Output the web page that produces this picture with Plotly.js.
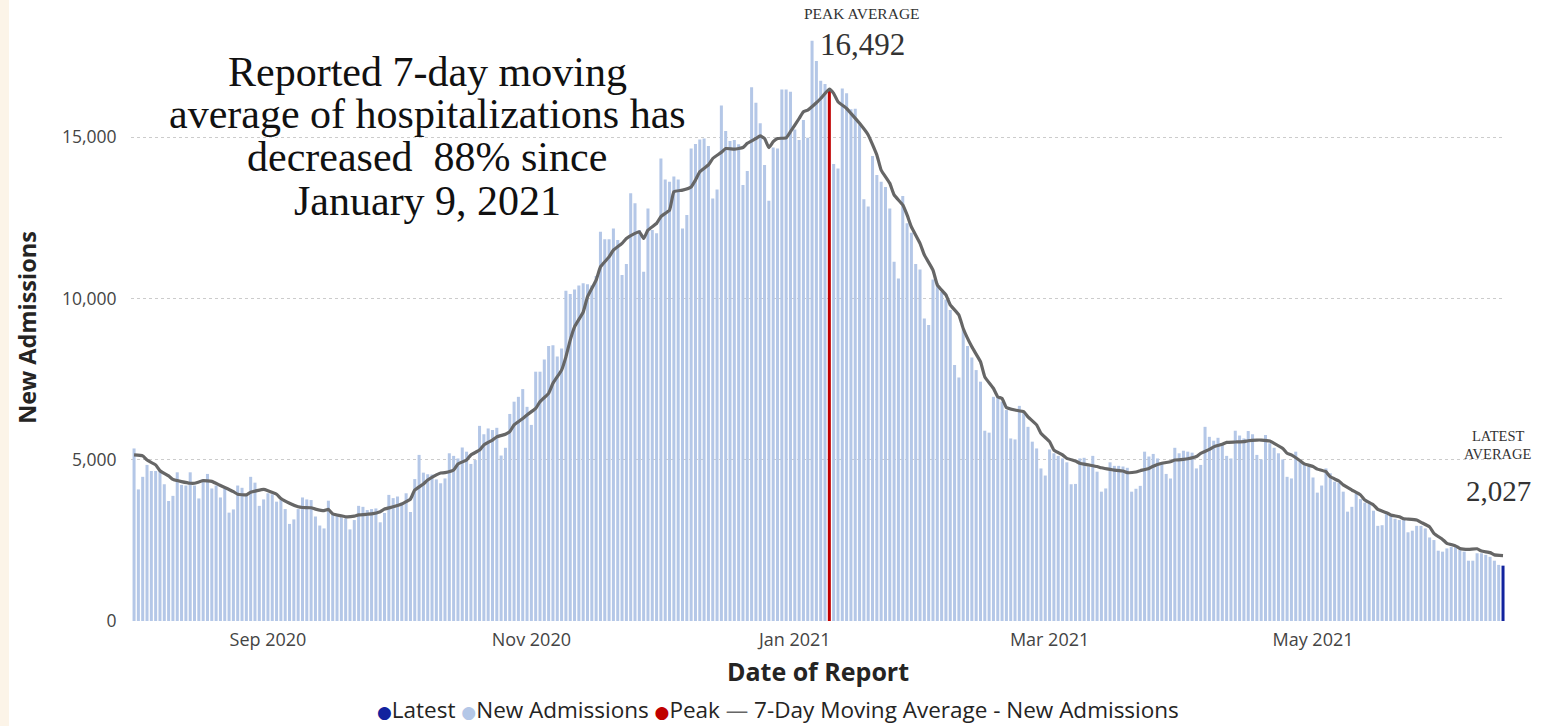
<!DOCTYPE html>
<html><head><meta charset="utf-8">
<script src="https://cdn.plot.ly/plotly-3.0.1.min.js"></script>
<style>
html,body{margin:0;padding:0;background:linear-gradient(to right,#fcf4e8 0,#fcf4e8 9px,#ffffff 9px);}
#chart{width:1552px;height:726px;}
</style></head>
<body><div id="chart"></div>
<script>
// ---- DATA ----
const startDate = '2020-08-01';
// Daily new admissions from Aug 1, 2020 (null where a highlight bar is drawn instead)
const admissions = [
5350,4080,4470,4840,4650,4650,4680,4240,3720,3880,
4610,4220,4200,4610,4200,3800,4400,4560,4110,4200,
3830,4110,3360,3460,4200,4130,3930,4470,4290,3570,
3770,3960,3930,3700,3750,3470,3010,3150,3470,3830,
3770,3750,3240,2960,2870,3730,3290,3260,3210,3180,
2840,3130,3570,3540,3440,3470,3490,3060,3350,3910,
3810,3860,3670,3960,3380,4400,5150,4600,4550,4540,
4390,4270,4420,5200,5120,5040,5380,5250,4870,4990,
6050,5790,5970,5920,5990,5130,5370,6420,6800,6950,
7190,6640,6080,7730,7730,8110,8530,8550,8200,8450,
10240,10140,10280,10400,10470,10440,10400,10700,12070,11840,
11840,12170,11810,10730,11070,13260,12950,12120,10830,12790,
12120,12020,14340,13690,13620,13780,13690,12170,12590,14650,
14790,14930,14960,14730,13100,13380,15980,15190,14880,14910,
14780,13520,13950,16550,16070,15430,14140,13030,14680,14650,
16480,16480,16410,15240,14910,15530,14980,17990,17360,16750,
16650,null,14170,14030,16510,16360,15870,15880,15400,13080,
12850,14420,13830,13620,13460,12790,11140,10620,13180,12330,
12040,11070,10900,9380,9180,10590,10470,10210,9970,9640,
7940,7550,9040,8530,8170,7780,7420,5900,5840,6950,
6950,6800,6540,5660,5630,6670,6490,6020,5560,5350,
4730,4510,5320,5200,5120,5040,4920,4240,4250,5040,
5060,4790,5120,4630,4010,4110,4920,4810,4810,4790,
4750,4010,4100,4190,5250,5100,5180,5040,4910,4560,
4420,5370,5200,5280,5250,5220,4730,4840,6020,5710,
5590,5680,5460,5120,5040,5900,5750,5660,5890,5790,
5150,5010,5770,5510,5370,5200,5010,4470,4420,5250,
4940,4890,4790,4450,3980,4200,4730,4580,4320,4290,
4010,3390,3540,3940,3780,3670,3630,3420,2950,2970,
3360,3290,3170,3130,3130,2750,2800,2950,2950,2870,
2590,2510,2180,2150,2250,2300,2330,2200,2150,1870,
1870,2100,2100,2050,1990,1870,1740,null
];
// 7-day moving average, read at these day offsets from startDate
const avgDay = [0,2,3,5,6,8,9,11,13,14,16,18,20,21,23,24,26,27,30,31,33,34,
36,38,39,41,42,44,45,46,48,49,51,52,54,55,57,58,60,62,63,64,65,67,68,70,
71,72,74,75,77,78,80,81,83,84,86,87,88,90,91,93,94,96,97,99,100,101,102,
104,105,107,108,110,111,113,114,116,117,118,119,121,122,124,125,127,129,130,131,133,134,
136,137,139,141,142,144,145,146,147,148,149,151,152,154,155,156,158,159,161,162,163,165,166,
168,170,172,173,175,176,178,179,180,182,183,185,186,188,189,191,192,194,196,197,199,
200,201,202,204,206,207,209,210,212,213,215,216,218,219,221,223,224,226,227,229,230,
232,233,235,236,238,240,241,243,244,246,247,249,250,252,253,255,257,258,260,261,263,264,266,
267,268,270,271,273,274,276,277,279,280,282,284,285,287,288,290,291,293,294,
295,297,298,300,301,303,304,306,307,309,311,312,314,315,317];
const avgValue = [5150,5120,4990,4840,4660,4500,4390,4320,4270,4270,4350,4330,4200,4140,4010,3930,3910,3990,4080,4040,3930,3800,
3650,3540,3520,3510,3470,3420,3460,3320,3260,3230,3250,3290,3310,3320,3390,3470,3540,3630,3700,3780,4060,4250,4370,4530,
4590,4600,4680,4870,4990,5150,5300,5460,5610,5710,5790,5870,6080,6280,6390,6590,6800,7060,7370,7780,8190,8710,9120,
9580,10050,10570,10980,11290,11500,11710,11860,12020,12070,11860,12120,12330,12540,12740,13310,13360,13460,13670,13930,14140,14340,
14530,14650,14630,14680,14810,14960,15040,14960,14680,14860,14960,14980,15170,15580,15790,15840,16070,16200,16492,16360,16100,15890,15740,
15430,15070,14450,13980,13570,13210,12900,12590,12220,11710,11350,10880,10420,10110,9800,9490,9070,8500,8040,7570,7210,
6950,6900,6620,6540,6490,6330,6080,5820,5560,5300,5150,5040,4960,4890,4840,4790,4750,4700,4680,4650,4600,
4620,4660,4730,4800,4890,4940,4990,5010,5030,5100,5200,5320,5400,5480,5540,5550,5560,5590,5610,5610,5580,5510,5350,
5200,5150,4970,4870,4790,4710,4630,4470,4340,4220,4060,3910,3750,3600,3460,3360,3290,3230,3170,
3160,3130,3060,2920,2720,2530,2410,2330,2250,2220,2240,2170,2120,2050,2027];
const peakDate = '2021-01-09', peakAverage = 16492;
const latestDate = '2021-06-14', latestAdmissions = 1716, latestAverage = 2027;
const tickDates = ['2020-09-01','2020-11-01','2021-01-01','2021-03-01','2021-05-01'];
const tickLabels = ['Sep 2020','Nov 2020','Jan 2021','Mar 2021','May 2021'];
const yTicks = [0,5000,10000,15000];
const yTickLabels = ['0','5,000','10,000','15,000'];
const headline = ['Reported 7-day moving','average of hospitalizations has','decreased  88% since','January 9, 2021'];

// ---- helpers ----
const DAY = 86400000;
function dayStr(i){ return new Date(Date.parse(startDate+'T00:00:00Z') + i*DAY).toISOString().slice(0,10); }
const dates = admissions.map((_,i)=>dayStr(i));
const avgDates = avgDay.map(dayStr);
const L=131, R=1505, T=34, B=621;
const px = x => (x-L)/(R-L);
const py = y => (B-y)/(B-T);
const sans = 'Open Sans, Noto Sans, sans-serif';
const serif = 'Liberation Serif, Times New Roman, serif';
const fmt = v => v.toLocaleString('en-US');

const traces = [
 {type:'bar', name:'New Admissions', x:dates, y:admissions, width:0.7*DAY, marker:{color:'#B4C7E7'}},
 {type:'bar', name:'Peak', x:[peakDate], y:[peakAverage], width:0.7*DAY, marker:{color:'#C00000'}},
 {type:'bar', name:'Latest', x:[latestDate], y:[latestAdmissions], width:0.7*DAY, marker:{color:'#12239E'}},
 {type:'scatter', mode:'lines', name:'7-Day Moving Average - New Admissions', x:avgDates, y:avgValue,
  line:{color:'#666666', width:3.2, shape:'spline', smoothing:0.35}}
];

const ann = [];
headline.forEach((t,k)=>{
  ann.push({xref:'paper', yref:'paper', x:px(427), y:py([72,114,157,201][k]), text:t, showarrow:false,
    xanchor:'center', yanchor:'middle', font:{family:serif, size:42, color:'#111111'}});
});
ann.push({xref:'paper', yref:'paper', x:px(862), y:py(14), text:'PEAK AVERAGE', showarrow:false, xanchor:'center', yanchor:'middle', font:{family:serif, size:15.5, color:'#333333'}});
ann.push({xref:'paper', yref:'paper', x:px(862), y:py(44), text:fmt(peakAverage), showarrow:false, xanchor:'center', yanchor:'middle', font:{family:serif, size:31, color:'#333333'}});
ann.push({xref:'paper', yref:'paper', x:px(1498), y:py(436), text:'LATEST', showarrow:false, xanchor:'center', yanchor:'middle', font:{family:serif, size:14.5, color:'#333333'}});
ann.push({xref:'paper', yref:'paper', x:px(1498), y:py(454), text:'AVERAGE', showarrow:false, xanchor:'center', yanchor:'middle', font:{family:serif, size:14.5, color:'#333333'}});
ann.push({xref:'paper', yref:'paper', x:px(1498), y:py(491), text:fmt(latestAverage), showarrow:false, xanchor:'center', yanchor:'middle', font:{family:serif, size:29, color:'#333333'}});
const dot = c => "<span style='color:"+c+";font-family:DejaVu Sans;font-size:17px'>●</span>";
ann.push({xref:'paper', yref:'paper', x:px(778), y:py(709), showarrow:false, xanchor:'center', yanchor:'middle',
  text: dot('#12239E')+'Latest '+dot('#B4C7E7')+'New Admissions '+dot('#C00000')+"Peak <span style='color:#666666'>—</span> 7-Day Moving Average - New Admissions",
  font:{family:sans, size:22.5, color:'#252423'}});

const layout = {
 width:1552, height:726, margin:{l:L, r:1552-R, t:T, b:726-B, pad:0},
 paper_bgcolor:'rgba(0,0,0,0)', plot_bgcolor:'rgba(0,0,0,0)',
 barmode:'overlay', showlegend:false,
 xaxis:{type:'date', range:[dayStr(-1)+' 07:00', latestDate+' 11:00'], tickvals:tickDates, ticktext:tickLabels,
   showgrid:false, zeroline:false, showline:false, ticks:'outside', ticklen:2, tickcolor:'rgba(0,0,0,0)',
   tickfont:{family:sans, size:18, color:'#444444'},
   title:{text:'<b>Date of Report</b>', font:{family:sans, size:25, color:'#252423'}, standoff:13}},
 yaxis:{range:[0,18200], tickvals:yTicks, ticktext:yTickLabels, showgrid:true, gridcolor:'#CCCCCC', griddash:'dot', gridwidth:1,
   zeroline:false, showline:false, ticks:'outside', ticklen:10, tickcolor:'rgba(0,0,0,0)',
   tickfont:{family:sans, size:17.5, color:'#444444'},
   title:{text:'<b>New Admissions</b>', font:{family:sans, size:23.5, color:'#252423'}, standoff:18}},
 annotations:ann
};
Plotly.newPlot('chart', traces, layout, {displayModeBar:false, staticPlot:true});
</script></body></html>
